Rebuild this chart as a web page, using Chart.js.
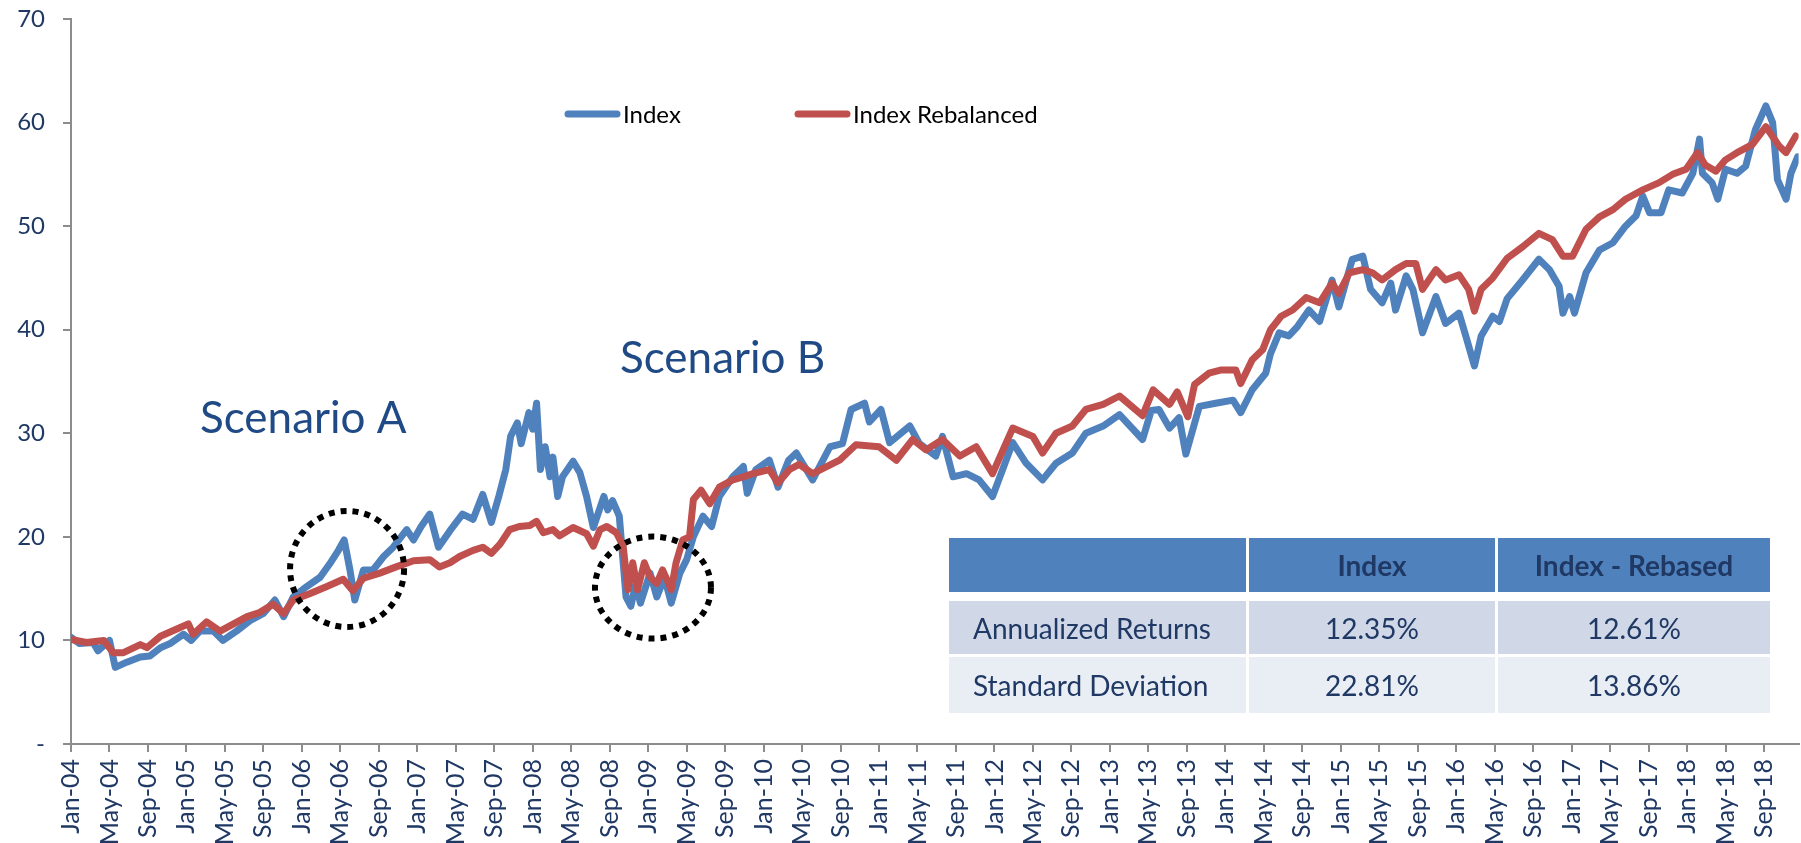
<!DOCTYPE html>
<html>
<head>
<meta charset="utf-8">
<title>Index vs Index Rebalanced</title>
<script src="https://cdn.jsdelivr.net/npm/chart.js@4.4.1/dist/chart.umd.min.js"></script>
<style>
  html, body { margin: 0; padding: 0; background: #fff; }
  #wrap { position: relative; width: 1801px; height: 843px; }
  #stats {
    position: absolute; left: 949px; top: 538px;
    display: grid;
    grid-template-columns: 297px 246px 272px;
    grid-template-rows: 60px 53px 56px;
    column-gap: 3px; row-gap: 3px;
    font-family: Lato, sans-serif; color: #1F3864;
  }
  #stats div { display: flex; align-items: center; justify-content: center; font-size: 28px; }
  #stats .hd { background: #4F81BD; font-weight: bold; margin-bottom: 6px; }
  #stats .r0 { background: #D0D8E8; }
  #stats .r1 { background: #E9EDF4; }
  #stats .first { justify-content: flex-start; padding-left: 24px; }
</style>
</head>
<body>
<div id="wrap">
  <canvas id="chart" width="1801" height="843"></canvas>
  <div id="stats"></div>
</div>
<script>
// x values are months since Jan-04
const tickLabels = ['Jan-04','May-04','Sep-04','Jan-05','May-05','Sep-05','Jan-06','May-06','Sep-06',
  'Jan-07','May-07','Sep-07','Jan-08','May-08','Sep-08','Jan-09','May-09','Sep-09','Jan-10','May-10',
  'Sep-10','Jan-11','May-11','Sep-11','Jan-12','May-12','Sep-12','Jan-13','May-13','Sep-13','Jan-14',
  'May-14','Sep-14','Jan-15','May-15','Sep-15','Jan-16','May-16','Sep-16','Jan-17','May-17','Sep-17',
  'Jan-18','May-18','Sep-18'];

const indexMonths = [0, 0.9, 2.3, 2.8, 4.0, 4.6, 5.8, 7.2, 8.2, 9.3, 10.3, 11.7, 12.5, 13.4, 14.8, 15.8,
  17.2, 18.6, 20.0, 21.2, 22.1, 23.1, 24.5, 25.9, 26.9, 27.8, 28.4, 29.0, 29.5, 30.4, 31.4, 32.5, 33.5,
  34.9, 35.6, 36.4, 37.3, 38.2, 39.4, 40.7, 41.8, 42.8, 43.7, 44.5, 45.2, 45.7, 46.4, 46.8, 47.6, 48.0,
  48.4, 48.8, 49.3, 49.8, 50.1, 50.6, 51.1, 52.2, 52.9, 53.6, 54.3, 55.4, 55.8, 56.3, 57.0, 57.7, 58.2,
  58.7, 59.2, 60.2, 60.9, 61.7, 62.4, 63.3, 64.0, 64.7, 65.7, 66.6, 67.4, 68.8, 69.9, 70.3, 71.2, 72.6,
  73.5, 74.6, 75.4, 77.1, 78.9, 80.2, 81.1, 82.5, 83.0, 84.2, 85.1, 87.2, 88.2, 89.9, 90.6, 91.7, 93.1,
  94.4, 95.8, 97.9, 99.3, 101.0, 102.4, 104.1, 105.5, 107.3, 109.0, 111.4, 112.3, 113.1, 114.2, 115.2,
  115.9, 117.3, 119.0, 120.8, 121.6, 122.8, 124.2, 124.7, 125.6, 126.6, 127.5, 128.7, 129.8, 131.1,
  131.8, 133.2, 134.3, 135.1, 136.3, 137.2, 137.7, 138.8, 139.5, 140.2, 140.5, 141.9, 142.9, 144.3,
  145.0, 145.9, 146.6, 147.8, 148.5, 149.3, 150.9, 152.6, 153.7, 154.7, 155.1, 155.8, 156.3, 157.5,
  158.9, 160.3, 161.6, 162.7, 163.4, 164.1, 165.3, 166.1, 167.5, 168.6, 169.3, 169.6, 170.6, 171.2,
  172.0, 173.2, 174.1, 175.1, 176.2, 176.9, 177.4, 178.3, 178.8, 179.5];
const indexValues = [10.3, 9.7, 9.8, 9.0, 10.0, 7.4, 7.9, 8.4, 8.5, 9.3, 9.7, 10.6, 10.0, 10.9, 10.9, 10.0,
  10.9, 11.9, 12.6, 13.9, 12.3, 14.2, 15.2, 16.1, 17.4, 18.7, 19.7, 16.8, 13.9, 16.8, 16.8, 18.1, 19.0,
  20.7, 19.7, 21.0, 22.2, 19.0, 20.6, 22.2, 21.7, 24.1, 21.4, 24.0, 26.5, 29.7, 31.0, 29.0, 32.0, 30.4,
  32.9, 26.5, 28.7, 25.8, 27.7, 23.9, 25.8, 27.3, 26.2, 23.9, 20.9, 23.9, 22.6, 23.5, 22.0, 14.2, 13.3,
  15.4, 13.6, 16.5, 14.2, 16.1, 13.6, 16.5, 17.8, 20.0, 22.0, 21.0, 23.9, 25.8, 26.8, 24.2, 26.5, 27.4,
  24.8, 27.4, 28.1, 25.5, 28.7, 29.0, 32.3, 32.9, 31.1, 32.3, 29.1, 30.7, 29.0, 27.8, 29.7, 25.8, 26.1,
  25.5, 23.9, 29.1, 27.1, 25.5, 27.1, 28.1, 30.0, 30.7, 31.8, 29.4, 32.2, 32.3, 30.5, 31.5,
  28.0, 32.6, 32.9, 33.2, 32.0, 34.2, 35.8, 37.7, 39.7, 39.4, 40.3, 41.9, 40.8, 44.8,
  42.2, 46.8, 47.1, 43.9, 42.6, 44.5, 41.9, 45.2, 43.9, 41.0, 39.7, 43.2, 40.6, 41.6,
  39.4, 36.5, 39.4, 41.3, 40.8, 43.0, 44.8, 46.8, 45.8, 44.2, 41.6, 43.2, 41.6, 45.5,
  47.7, 48.4, 50.0, 51.0, 52.9, 51.3, 51.3, 53.5, 53.2, 55.1, 58.4, 55.1, 54.2, 52.6,
  55.5, 55.1, 55.8, 59.3, 61.6, 60.0, 54.5, 52.6, 55.1, 56.7];

const rebalMonths = [0, 1.6, 3.4, 4.4, 5.4, 7.2, 7.9, 9.3, 11.0, 12.2, 12.7, 14.1, 15.5, 16.9, 18.3, 19.6,
  21.0, 22.1, 23.1, 24.8, 26.6, 28.3, 29.3, 30.4, 32.1, 33.8, 35.6, 37.3, 38.3, 39.4, 40.4, 41.8, 42.8,
  43.7, 44.6, 45.6, 46.6, 47.7, 48.4, 49.1, 50.1, 50.8, 52.2, 53.6, 54.3, 55.0, 55.7, 56.7, 57.4, 57.9,
  58.4, 58.9, 59.6, 60.2, 60.9, 61.5, 62.4, 62.9, 63.6, 64.3, 64.7, 65.5, 66.4, 67.4, 68.8, 69.9, 70.9,
  72.6, 73.5, 74.7, 75.7, 77.1, 79.9, 81.6, 84.0, 85.8, 87.5, 88.9, 90.6, 92.4, 94.1, 95.8, 97.9, 100.0,
  101.0, 102.4, 104.1, 105.5, 107.3, 109.0, 111.4, 112.5, 114.2, 115.0, 116.1, 116.8, 118.3, 119.5,
  121.1, 121.6, 122.8, 123.9, 124.7, 125.8, 127.0, 128.4, 129.8, 131.1, 131.8, 132.9, 134.3, 135.3,
  136.3, 137.7, 138.8, 139.8, 140.5, 141.9, 142.9, 144.3, 145.3, 145.9, 146.6, 147.8, 149.3, 150.9,
  152.6, 154.0, 155.1, 156.1, 157.5, 158.9, 160.3, 161.6, 163.4, 165.1, 166.5, 167.9, 169.1, 169.9,
  171.0, 172.0, 173.4, 174.8, 176.2, 177.6, 178.3, 179.3];
const rebalValues = [10.1, 9.8, 10.0, 8.8, 8.8, 9.6, 9.3, 10.4, 11.1, 11.6, 10.6, 11.8, 10.9, 11.6, 12.3, 12.7,
  13.5, 12.6, 13.9, 14.5, 15.2, 15.9, 14.8, 16.0, 16.5, 17.1, 17.7, 17.8, 17.1, 17.5, 18.1, 18.7, 19.0,
  18.4, 19.3, 20.7, 21.0, 21.1, 21.5, 20.4, 20.7, 20.1, 20.9, 20.3, 19.1, 20.7, 21.0, 20.4, 19.1, 14.9,
  17.5, 14.9, 17.5, 16.1, 15.5, 16.8, 14.9, 17.5, 19.7, 20.0, 23.6, 24.5, 23.2, 24.8, 25.5, 25.8, 26.1,
  26.5, 25.2, 26.5, 27.0, 26.1, 27.4, 28.9, 28.7, 27.4, 29.4, 28.4, 29.4, 27.8, 28.7, 26.1, 30.5, 29.7,
  28.1, 30.0, 30.7, 32.3, 32.8, 33.6, 31.7, 34.2, 32.8, 34.0, 31.6, 34.7, 35.8, 36.1,
  36.1, 34.8, 37.1, 38.1, 40.0, 41.3, 41.9, 43.1, 42.6, 44.5, 43.5, 45.5, 45.8, 45.5,
  44.8, 45.8, 46.4, 46.4, 43.9, 45.8, 44.8, 45.3, 43.9, 41.8, 43.9, 45.0, 46.9, 48.0,
  49.3, 48.7, 47.1, 47.1, 49.7, 50.9, 51.6, 52.6, 53.5, 54.2, 55.0, 55.5, 57.1, 55.9,
  55.3, 56.4, 57.2, 57.9, 59.6, 57.7, 57.1, 58.7];

const statHeaders = ['', 'Index', 'Index - Rebased'];
const statRows = [
  ['Annualized Returns', '12.35%', '12.61%'],
  ['Standard Deviation', '22.81%', '13.86%']
];

// callouts: centre in data units (month, value)
const scenarios = [
  { label: 'Scenario A', month: 28.7, value: 16.9 },
  { label: 'Scenario B', month: 60.5, value: 15.1 }
];

const navy = '#1F3864';
const axisGrey = '#8C8C8C';

// stats table
const stats = document.getElementById('stats');
statHeaders.forEach((h, i) => {
  const d = document.createElement('div');
  d.className = 'hd';
  d.textContent = h;
  stats.appendChild(d);
});
statRows.forEach((row, r) => {
  row.forEach((cell, i) => {
    const d = document.createElement('div');
    d.className = 'r' + r + (i === 0 ? ' first' : '');
    d.textContent = cell;
    stats.appendChild(d);
  });
});

const toPoints = (xs, ys) => xs.map((x, i) => ({ x: x, y: ys[i] }));

const overlay = {
  id: 'overlay',
  afterDatasetsDraw(chart) {
    const ctx = chart.ctx;
    const xs = chart.scales.x, ys = chart.scales.y;
    ctx.save();

    // legend
    const legendX = [565, 795];
    chart.data.datasets.forEach((ds, i) => {
      const x0 = legendX[i], y0 = 114;
      ctx.strokeStyle = ds.borderColor;
      ctx.lineWidth = 7;
      ctx.lineCap = 'round';
      ctx.beginPath();
      ctx.moveTo(x0 + 3, y0);
      ctx.lineTo(x0 + 52, y0);
      ctx.stroke();
      ctx.fillStyle = '#000';
      ctx.font = '24px Lato';
      ctx.textBaseline = 'middle';
      ctx.fillText(ds.label, x0 + 58, y0 + 1);
    });

    // dotted circles
    ctx.strokeStyle = '#000';
    ctx.lineWidth = 6;
    ctx.lineCap = 'butt';
    ctx.setLineDash([6, 6]);
    const radii = [[57, 58], [58, 51]];
    scenarios.forEach((s, i) => {
      const cx = xs.getPixelForValue(s.month);
      const cy = ys.getPixelForValue(s.value);
      ctx.beginPath();
      ctx.ellipse(cx, cy, radii[i][0], radii[i][1], 0, 0, Math.PI * 2);
      ctx.stroke();
    });
    ctx.setLineDash([]);

    // scenario labels
    const labelPos = [[200, 433], [620, 373]];
    ctx.fillStyle = '#1F4A85';
    ctx.font = '44px Lato';
    ctx.textBaseline = 'alphabetic';
    scenarios.forEach((s, i) => ctx.fillText(s.label, labelPos[i][0], labelPos[i][1]));
    ctx.restore();
  }
};

new Chart(document.getElementById('chart'), {
  type: 'line',
  data: {
    datasets: [
      {
        label: 'Index',
        data: toPoints(indexMonths, indexValues),
        borderColor: '#4F81BD',
        borderWidth: 7,
        order: 1
      },
      {
        label: 'Index Rebalanced',
        data: toPoints(rebalMonths, rebalValues),
        borderColor: '#C0504D',
        borderWidth: 7,
        order: 0
      }
    ]
  },
  options: {
    responsive: false,
    animation: false,
    parsing: false,
    layout: { padding: { top: 19, right: 1, left: 0, bottom: 0 } },
    elements: {
      point: { radius: 0 },
      line: { tension: 0, borderJoinStyle: 'round', borderCapStyle: 'round' }
    },
    plugins: { legend: { display: false }, tooltip: { enabled: false } },
    scales: {
      x: {
        type: 'linear',
        min: 0,
        max: 179.6,
        afterBuildTicks: s => { s.ticks = tickLabels.map((_, i) => ({ value: i * 4 })); },
        afterFit: s => { s.height = 99; },
        ticks: {
          autoSkip: false,
          maxRotation: 90,
          minRotation: 90,
          padding: 7,
          color: navy,
          font: { family: 'Lato', size: 25 },
          callback: v => tickLabels[Math.round(v / 4)]
        },
        grid: { drawOnChartArea: false, tickLength: 8, color: axisGrey, lineWidth: 2 },
        border: { color: axisGrey, width: 2 }
      },
      y: {
        min: 0,
        max: 70,
        // keep the label gap from pushing the plot down
        afterFit: s => { s.width = 71; s.paddingTop = 0; s.paddingBottom = 0; },
        ticks: {
          stepSize: 10,
          padding: 18,
          color: navy,
          font: { family: 'Lato', size: 24 },
          callback: v => (v === 0 ? '-' : v)
        },
        grid: { drawOnChartArea: false, tickLength: 8, color: axisGrey, lineWidth: 2 },
        border: { color: axisGrey, width: 2 }
      }
    }
  },
  plugins: [overlay]
});
</script>
</body>
</html>
